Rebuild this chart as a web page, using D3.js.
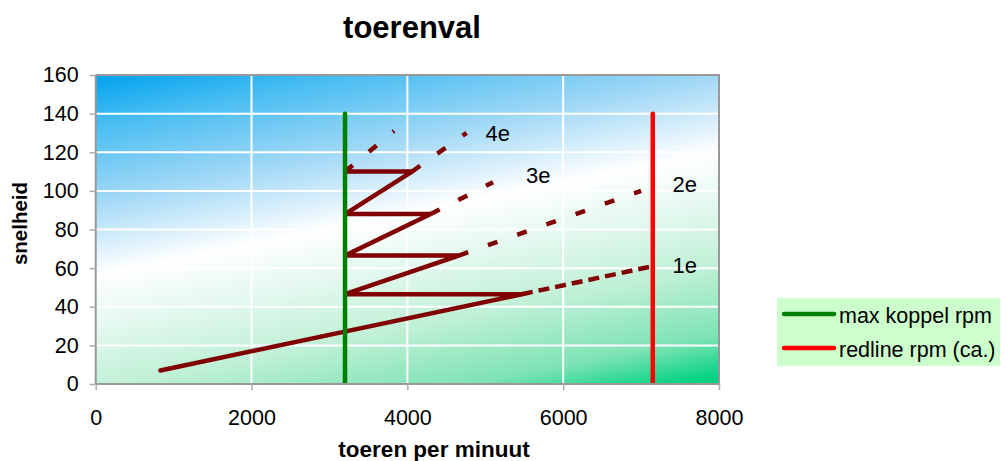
<!DOCTYPE html>
<html>
<head>
<meta charset="utf-8">
<script src="https://cdn.jsdelivr.net/npm/d3@7"></script>
<style>
  html, body { margin: 0; padding: 0; background: #ffffff; }
  svg { display: block; font-family: "Liberation Sans", Arial, sans-serif; }
</style>
</head>
<body>
<svg id="chart" width="1006" height="461"></svg>
<script>
// Axis ticks
const rpmTicks = [0, 2000, 4000, 6000, 8000];
const speedTicks = [0, 20, 40, 60, 80, 100, 120, 140, 160];

// Shifting path: accelerate in a gear, drop back to max-torque rpm at constant speed
const driveRpm   = [830, 5470, 3200, 4660, 3200, 4300, 3200, 4060, 3200];
const driveSpeed = [7,   46.5, 46.5, 66.5, 66.5, 88,   88,   110,  110];

// Remaining range of each gear (dashed)
const gearNames      = ["1e", "2e", "3e", "4e", "5e"];
const gearStartRpm   = [5470, 4660, 4300, 4060, 3200];
const gearStartSpeed = [46.5, 66.5, 88,   110,  110];
const gearEndRpm     = [7150, 7000, 5100, 4760, 3830];
const gearEndSpeed   = [61,   100,  104.5, 130, 131];

// Gear labels
const labelNames = ["1e", "2e", "3e", "4e"];
const labelRpm   = [7560, 7560, 5680, 5160];
const labelSpeed = [57.6, 99.6, 104.2, 126];

// Reference rpm markers
const markerNames = ["max koppel rpm", "redline rpm (ca.)"];
const markerRpm   = [3200, 7150];
const markerTop   = [140, 140];
const markerColors = ["#008000", "#ff0000"];

const svg = d3.select("#chart");
const x = d3.scaleLinear().domain([0, 8000]).range([95.7, 719]);
const y = d3.scaleLinear().domain([0, 160]).range([384, 75]);

// Plot background gradient (blue top-left, white band, green bottom-right)
const defs = svg.append("defs");
const grad = defs.append("linearGradient")
  .attr("id", "bg").attr("gradientUnits", "userSpaceOnUse")
  .attr("x1", 95.7).attr("y1", 75)
  .attr("x2", 95.7 + 0.2 * 410).attr("y2", 75 + 410);
[
  [0, "#00a2ee"], [0.12, "#48bdf2"], [0.3, "#a3d9f6"], [0.47, "#ffffff"],
  [0.6, "#e2f8ee"], [0.74, "#bff0d6"], [0.9, "#7fe3b6"], [1, "#00d282"]
].forEach(([o, c]) => grad.append("stop").attr("offset", o).attr("stop-color", c));

svg.append("rect")
  .attr("x", x(0)).attr("y", y(160))
  .attr("width", x(8000) - x(0)).attr("height", y(0) - y(160))
  .attr("fill", "url(#bg)");

// Gridlines
svg.append("g").selectAll("line").data(rpmTicks.slice(1, -1)).join("line")
  .attr("x1", d => x(d)).attr("x2", d => x(d))
  .attr("y1", y(0)).attr("y2", y(160))
  .attr("stroke", "#ffffff").attr("stroke-width", 2);
svg.append("g").selectAll("line").data(speedTicks.slice(1, -1)).join("line")
  .attr("x1", x(0)).attr("x2", x(8000))
  .attr("y1", d => y(d)).attr("y2", d => y(d))
  .attr("stroke", "#ffffff").attr("stroke-width", 2);

const line = d3.line().x(d => x(d[0])).y(d => y(d[1]));

// Dashed gear ranges
gearNames.forEach((g, i) => {
  svg.append("path")
    .attr("d", line([[gearStartRpm[i], gearStartSpeed[i]], [gearEndRpm[i], gearEndSpeed[i]]]))
    .attr("fill", "none").attr("stroke", "#800000").attr("stroke-width", 4.5)
    .attr("stroke-dasharray", i === 0 ? "11,6" : "10,21");
});

// Solid shifting path
svg.append("path")
  .attr("d", line(driveRpm.map((r, i) => [r, driveSpeed[i]])))
  .attr("fill", "none").attr("stroke", "#800000").attr("stroke-width", 4.5)
  .attr("stroke-linecap", "round").attr("stroke-linejoin", "miter")
  .attr("stroke-miterlimit", 2.2);

// Vertical rpm markers
markerNames.forEach((m, i) => {
  svg.append("line")
    .attr("x1", x(markerRpm[i])).attr("x2", x(markerRpm[i]))
    .attr("y1", y(0)).attr("y2", y(markerTop[i]))
    .attr("stroke", markerColors[i]).attr("stroke-width", 4.5);
  svg.append("circle")
    .attr("cx", x(markerRpm[i])).attr("cy", y(markerTop[i])).attr("r", 2.25)
    .attr("fill", markerColors[i]);
});

// Axes
const yAxis = svg.append("g").attr("transform", `translate(${x(0)},0)`)
  .call(d3.axisLeft(y).tickValues(speedTicks).tickSize(6).tickPadding(11));
const xAxis = svg.append("g").attr("transform", `translate(0,${y(0)})`)
  .call(d3.axisBottom(x).tickValues(rpmTicks).tickFormat(d3.format("d"))
    .tickSize(6).tickPadding(20));
[xAxis, yAxis].forEach(a => {
  a.selectAll("path.domain").attr("stroke", "#999999").attr("stroke-width", 2);
  a.selectAll(".tick line").attr("stroke", "#aaaaaa").attr("stroke-width", 1.5);
  a.selectAll(".tick text").attr("font-size", 21.5).attr("fill", "#000")
    .attr("font-family", "'Liberation Sans', Arial, sans-serif");
});
yAxis.selectAll("path.domain").attr("d", `M0,${y(0)}V${y(160)}`);
xAxis.selectAll("path.domain").attr("d", `M${x(0)},0H${x(8000)}`);

// Plot border (top and right)
svg.append("path")
  .attr("d", `M${x(0)},${y(160)}H${x(8000)}V${y(0)}`)
  .attr("fill", "none").attr("stroke", "#999999").attr("stroke-width", 2);

// Gear labels
svg.append("g").selectAll("text").data(labelNames).join("text")
  .attr("x", (d, i) => x(labelRpm[i])).attr("y", (d, i) => y(labelSpeed[i]))
  .attr("text-anchor", "middle").attr("font-size", 22).attr("fill", "#000")
  .text(d => d);

// Title and axis titles
svg.append("text").attr("x", 412).attr("y", 38).attr("text-anchor", "middle")
  .attr("font-size", 31).attr("font-weight", "bold").text("toerenval");
svg.append("text").attr("x", 434).attr("y", 457).attr("text-anchor", "middle")
  .attr("font-size", 22.5).attr("font-weight", "bold").text("toeren per minuut");
svg.append("text").attr("transform", "translate(27,223.5) rotate(-90)")
  .attr("text-anchor", "middle").attr("font-size", 20.5).attr("font-weight", "bold")
  .text("snelheid");

// Legend
const legend = svg.append("g").attr("transform", "translate(777,298)");
legend.append("rect").attr("width", 223).attr("height", 68).attr("fill", "#ccffcc");
markerNames.forEach((m, i) => {
  const g = legend.append("g").attr("transform", `translate(0,${16 + i * 34})`);
  g.append("line").attr("x1", 7).attr("x2", 57).attr("y1", 0).attr("y2", 0)
    .attr("stroke", markerColors[i]).attr("stroke-width", 4.5).attr("stroke-linecap", "round");
  g.append("text").attr("x", 62).attr("y", 8.5).attr("font-size", 21.5).attr("fill", "#000").text(m);
});
</script>
</body>
</html>
